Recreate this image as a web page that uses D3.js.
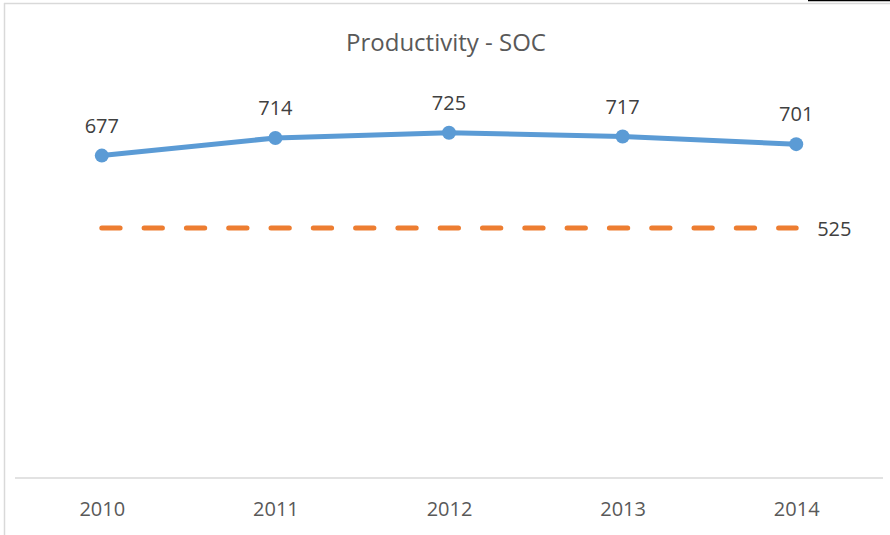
<!DOCTYPE html>
<html>
<head>
<meta charset="utf-8">
<script src="https://cdn.jsdelivr.net/npm/d3@7"></script>
<style>
  html, body { margin: 0; padding: 0; background: #fff; }
  svg { display: block; font-family: "Open Sans", "Noto Sans", sans-serif; }
</style>
</head>
<body>
<svg id="chart" width="890" height="535"></svg>
<script>
// Chart data
const years = ['2010', '2011', '2012', '2013', '2014'];
const productivity = [677, 714, 725, 717, 701];
const target = [525, 525, 525, 525, 525];
const chartTitle = 'Productivity - SOC';

const width = 890, height = 535;
const margin = { top: 97, right: 7, bottom: 57, left: 15 };

const svg = d3.select('#chart');

// Frame lines (chart border pieces visible in the screenshot)
svg.append('line')
    .attr('x1', 4).attr('x2', width).attr('y1', 3.5).attr('y2', 3.5)
    .style('stroke', '#d9d9d9').style('stroke-width', 1.5);
svg.append('line')
    .attr('x1', 4.5).attr('x2', 4.5).attr('y1', 3).attr('y2', height)
    .style('stroke', '#d9d9d9').style('stroke-width', 1.5);
svg.append('line')
    .attr('x1', 808).attr('x2', width).attr('y1', 0.5).attr('y2', 0.5)
    .style('stroke', '#000').style('stroke-width', 1.5);

const x = d3.scalePoint()
    .domain(years)
    .range([margin.left, width - margin.right])
    .padding(0.5);

const y = d3.scaleLinear()
    .domain([0, 800])
    .range([height - margin.bottom, margin.top]);

// Title
svg.append('text')
    .attr('x', 446)
    .attr('y', 51)
    .attr('text-anchor', 'middle')
    .style('font-size', '24px')
    .style('fill', '#595959')
    .text(chartTitle);

// X axis
const xAxis = svg.append('g')
    .attr('transform', `translate(0, ${y(0)})`)
    .call(d3.axisBottom(x).tickSize(0).tickPadding(24));
xAxis.select('.domain')
    .attr('d', `M${margin.left},0H${width - margin.right}`)
    .style('stroke', '#d9d9d9')
    .style('stroke-width', 1.5);
xAxis.selectAll('text')
    .style('font-size', '20px')
    .style('font-family', '"Open Sans", "Noto Sans", sans-serif')
    .style('fill', '#595959');

// Target dashed line
const targetLine = d3.line()
    .x((d, i) => x(years[i]))
    .y(d => y(d));

svg.append('path')
    .datum(target)
    .attr('d', targetLine)
    .style('fill', 'none')
    .style('stroke', '#ed7d31')
    .style('stroke-width', 5)
    .style('stroke-linecap', 'round')
    .style('stroke-dasharray', '18.3,24');

svg.append('text')
    .attr('x', x(years[years.length - 1]) + 21)
    .attr('y', y(target[target.length - 1]) + 8)
    .style('font-size', '20px')
    .style('fill', '#404040')
    .text(target[target.length - 1]);

// Productivity line
const prodLine = d3.line()
    .x((d, i) => x(years[i]))
    .y(d => y(d));

svg.append('path')
    .datum(productivity)
    .attr('d', prodLine)
    .style('fill', 'none')
    .style('stroke', '#5b9bd5')
    .style('stroke-width', 5)
    .style('stroke-linejoin', 'round');

svg.selectAll('.dot')
    .data(productivity)
    .enter().append('circle')
    .attr('class', 'dot')
    .attr('cx', (d, i) => x(years[i]))
    .attr('cy', d => y(d))
    .attr('r', 7)
    .style('fill', '#5b9bd5');

svg.selectAll('.value-label')
    .data(productivity)
    .enter().append('text')
    .attr('class', 'value-label')
    .attr('x', (d, i) => x(years[i]))
    .attr('y', d => y(d) - 23)
    .attr('text-anchor', 'middle')
    .style('font-size', '20px')
    .style('fill', '#404040')
    .text(d => d);
</script>
</body>
</html>
